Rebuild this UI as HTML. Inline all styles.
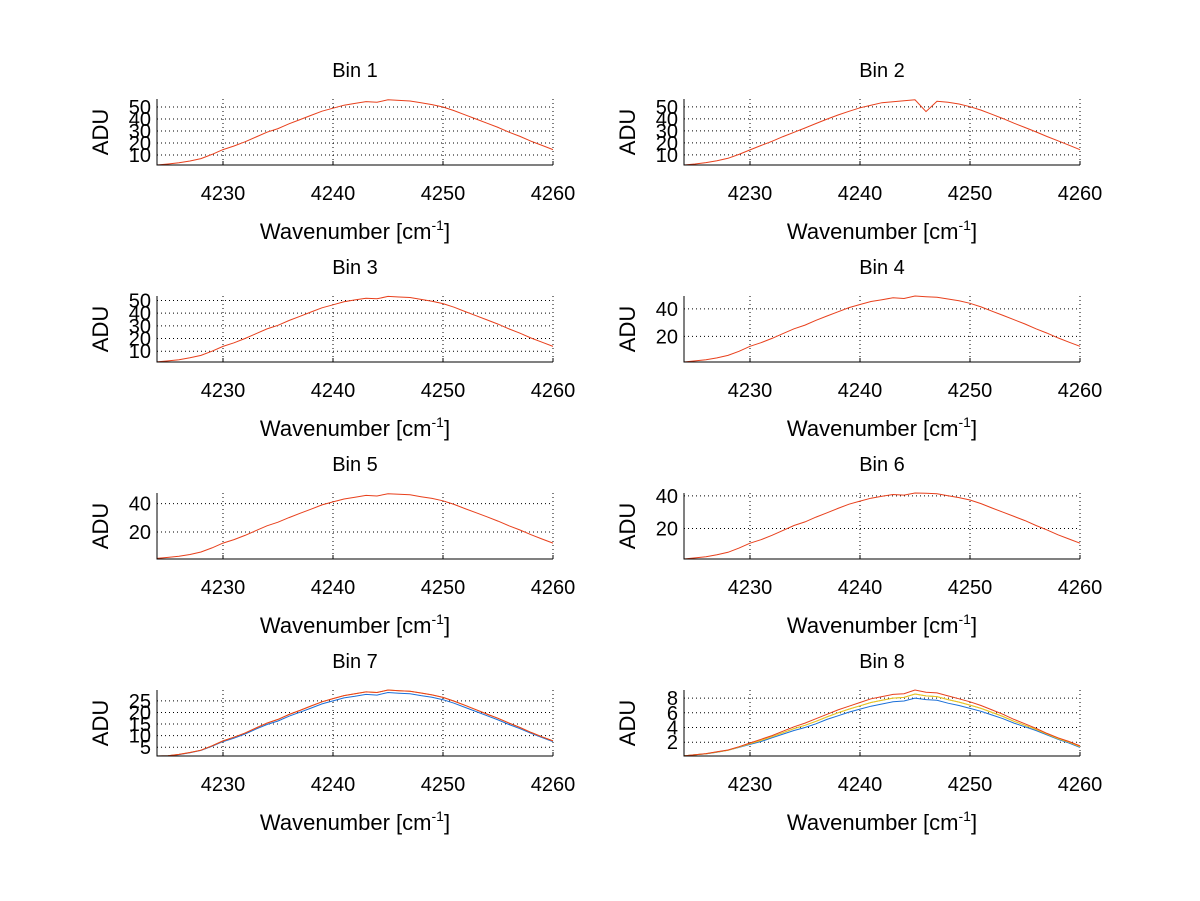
<!DOCTYPE html>
<html><head><meta charset="utf-8">
<style>
html,body{margin:0;padding:0;background:#fff;}
svg{display:block;font-family:"Liberation Sans",Arial,sans-serif;}
</style></head>
<body>
<svg id="fig" width="1200" height="901" viewBox="0 0 1200 901" xmlns="http://www.w3.org/2000/svg"></svg>
<script>
const wavenumbers = [4224,4225,4226,4227,4228,4229,4230,4231,4232,4233,4234,4235,4236,4237,4238,4239,4240,4241,4242,4243,4244,4245,4246,4247,4248,4249,4250,4251,4252,4253,4254,4255,4256,4257,4258,4259,4260];
const xTicks = [4230,4240,4250,4260];
const bin1 = [1.7,2.5,3.5,5,7,10.5,14.5,17.5,21,25,29,32,36,39.5,43,46.5,49,51.5,53,54.5,54,56,55.5,55,53.5,52,50,47,43.5,40,36.5,33,29,25.5,21.5,18,14.5];
const bin2 = [1.6,2.4,3.6,5.2,7.2,10.4,14.2,17.8,21.3,25.2,28.8,32.4,36.1,39.8,43.2,46.3,49.2,51.3,53.4,54.2,55.1,55.8,46,54.6,53.8,52.3,50.1,47.3,43.8,40.2,36.4,32.8,29.1,25.3,21.7,18.1,14.3];
const bin3 = [1.6,2.4,3.3,4.8,6.7,10,13.8,16.6,20,23.8,27.6,30.4,34.2,37.5,40.9,44.2,46.6,48.9,50.4,51.8,51.3,53.2,52.7,52.3,50.8,49.4,47.5,44.7,41.3,38,34.7,31.4,27.6,24.2,20.4,17.1,13.8];
const bin4 = [1.4,2.2,3.1,4.4,6.2,9.2,12.8,15.4,18.5,22,25.5,28.2,31.7,34.8,37.8,40.9,43.1,45.3,46.6,48,47.5,49.3,48.8,48.4,47.1,45.8,44,41.4,38.3,35.2,32.1,29,25.5,22.4,18.9,15.8,12.8];
const bin5 = [1.4,2.1,2.9,4.2,5.9,8.8,12.2,14.7,17.6,21,24.4,26.9,30.2,33.2,36.1,39.1,41.2,43.3,44.5,45.8,45.4,47,46.6,46.2,44.9,43.7,42,39.5,36.5,33.6,30.7,27.7,24.4,21.4,18.1,15.1,12.2];
const bin6 = [1.2,1.9,2.6,3.8,5.3,7.9,10.9,13.1,15.8,18.8,21.8,24,27,29.6,32.3,34.9,36.8,38.6,39.8,40.9,40.5,41.8,41.6,41.3,40.1,39,37.5,35.3,32.6,30,27.4,24.8,21.8,19.1,16.1,13.5,10.9];
const bin7Red = [1.2,1.3,1.9,2.7,3.7,5.6,7.7,9.3,11.1,13.3,15.4,17,19.1,20.9,22.8,24.6,26,27.3,28.1,28.9,28.6,29.7,29.4,29.2,28.4,27.6,26.5,24.9,23.1,21.2,19.3,17.5,15.4,13.5,11.4,9.5,7.7];
const bin7Blue = [1.2,1.3,1.8,2.6,3.6,5.4,7.4,8.9,10.7,12.8,14.8,16.3,18.4,20.1,21.9,23.7,25,26.3,27,27.8,27.5,28.6,28.3,28.1,27.3,26.6,25.5,24,22.2,20.4,18.6,16.8,14.8,13,11,9.2,7.4];
const bin8Red = [0.15,0.3,0.45,0.7,0.95,1.4,1.9,2.4,2.9,3.5,4.1,4.6,5.2,5.8,6.4,6.9,7.4,7.9,8.2,8.5,8.6,9.1,8.8,8.7,8.3,7.9,7.5,7,6.4,5.8,5.1,4.5,3.9,3.2,2.6,2.1,1.5];
const bin8Green = [0.15,0.3,0.44,0.68,0.92,1.35,1.8,2.25,2.75,3.3,3.85,4.3,4.85,5.45,6,6.5,6.95,7.4,7.7,8,8.1,8.55,8.3,8.2,7.8,7.45,7.05,6.6,6.05,5.5,4.85,4.3,3.75,3.1,2.5,2,1.4];
const bin8Blue = [0.15,0.3,0.42,0.65,0.9,1.3,1.7,2.1,2.6,3.1,3.6,4,4.5,5.1,5.6,6.1,6.5,6.9,7.2,7.5,7.6,8,7.8,7.7,7.3,7,6.6,6.2,5.7,5.2,4.6,4.1,3.6,3,2.4,1.9,1.3];
const yTicksBig = [10,20,30,40,50];
const yTicksMid = [20,40];
const yTicks7 = [5,10,15,20,25];
const yTicks8 = [2,4,6,8];

const panels = [
 {name:'Bin 1',col:0,row:0,ylim:[1.7,56.7],ticks:yTicksBig,series:[{d:bin1,c:'#e8401c'}]},
 {name:'Bin 2',col:1,row:0,ylim:[1.6,56.5],ticks:yTicksBig,series:[{d:bin2,c:'#e8401c'}]},
 {name:'Bin 3',col:0,row:1,ylim:[1.5,53.5],ticks:yTicksBig,series:[{d:bin3,c:'#e8401c'}]},
 {name:'Bin 4',col:1,row:1,ylim:[1.4,49.3],ticks:yTicksMid,series:[{d:bin4,c:'#e8401c'}]},
 {name:'Bin 5',col:0,row:2,ylim:[1.0,47.5],ticks:yTicksMid,series:[{d:bin5,c:'#e8401c'}]},
 {name:'Bin 6',col:1,row:2,ylim:[1.2,41.8],ticks:yTicksMid,series:[{d:bin6,c:'#e8401c'}]},
 {name:'Bin 7',col:0,row:3,ylim:[1.2,29.7],ticks:yTicks7,series:[{d:bin7Blue,c:'#1a6fd8'},{d:bin7Red,c:'#f0a020'},{d:bin7Red,c:'#e8401c'}]},
 {name:'Bin 8',col:1,row:3,ylim:[0.13,9.1],ticks:yTicks8,series:[{d:bin8Blue,c:'#1a6fd8'},{d:bin8Green,c:'#9ad860'},{d:bin8Green,c:'#f0c020'},{d:bin8Red,c:'#e8401c'}]}
];
const NS='http://www.w3.org/2000/svg';
const svg=document.getElementById('fig');
function mk(tag,attrs,parent){const e=document.createElementNS(NS,tag);for(const k in attrs)e.setAttribute(k,attrs[k]);(parent||svg).appendChild(e);return e;}
const colX=[157,684], rowY=[99,296,493,690], W=396, H=66, xmin=4224, xmax=4260;
panels.forEach((p,i)=>{
  const x0=colX[p.col], y0=rowY[p.row];
  const g=mk('g',{});
  
  
  const sx=v=>x0+(v-xmin)/(xmax-xmin)*W;
  const sy=v=>y0+H-(v-p.ylim[0])/(p.ylim[1]-p.ylim[0])*H;
  // grid
  xTicks.forEach(t=>{const l=mk('line',{x1:sx(t),x2:sx(t),y1:y0,y2:y0+H,stroke:'#000','stroke-width':1,'stroke-dasharray':'1,3'},g);
    
    const tk=mk('line',{x1:sx(t),x2:sx(t),y1:y0+H,y2:y0+H-4,stroke:'#000'},g);
    const tx=mk('text',{x:sx(t),y:y0+H+35,'text-anchor':'middle','font-size':20},g);tx.textContent=t;
    });
  p.ticks.forEach(t=>{const l=mk('line',{x1:x0,x2:x0+W,y1:sy(t),y2:sy(t),stroke:'#000','stroke-width':1,'stroke-dasharray':'1,3'},g);
    
    const tx=mk('text',{x:x0-6,y:sy(t)+7,'text-anchor':'end','font-size':20},g);tx.textContent=t;
    });
  p.series.forEach(s=>{
    const pts=s.d.map((v,j)=>sx(wavenumbers[j]).toFixed(1)+','+sy(v).toFixed(1)).join(' ');
    const pl=mk('polyline',{points:pts,fill:'none',stroke:s.c,'stroke-width':1},g);
    
  });
  const ax=mk('path',{d:`M${x0},${y0}V${y0+H}H${x0+W}`,fill:'none',stroke:'#000','stroke-width':1},g);
  
  const ti=mk('text',{x:x0+W/2,y:y0-22,'text-anchor':'middle','font-size':20},g);ti.textContent=p.name;
  
  const xl=mk('text',{x:x0+W/2,y:y0+H+74,'text-anchor':'middle','font-size':22},g);
  
  xl.appendChild(document.createTextNode('Wavenumber [cm'));
  const sup=mk('tspan',{dy:-9,'font-size':14},xl);sup.textContent='-1';
  const rb=mk('tspan',{dy:9},xl);rb.textContent=']';
  const yl=mk('text',{x:0,y:0,'text-anchor':'middle','font-size':22,transform:`translate(${x0-49},${y0+H/2}) rotate(-90)`},g);yl.textContent='ADU';
  
});
</script>
</body></html>
